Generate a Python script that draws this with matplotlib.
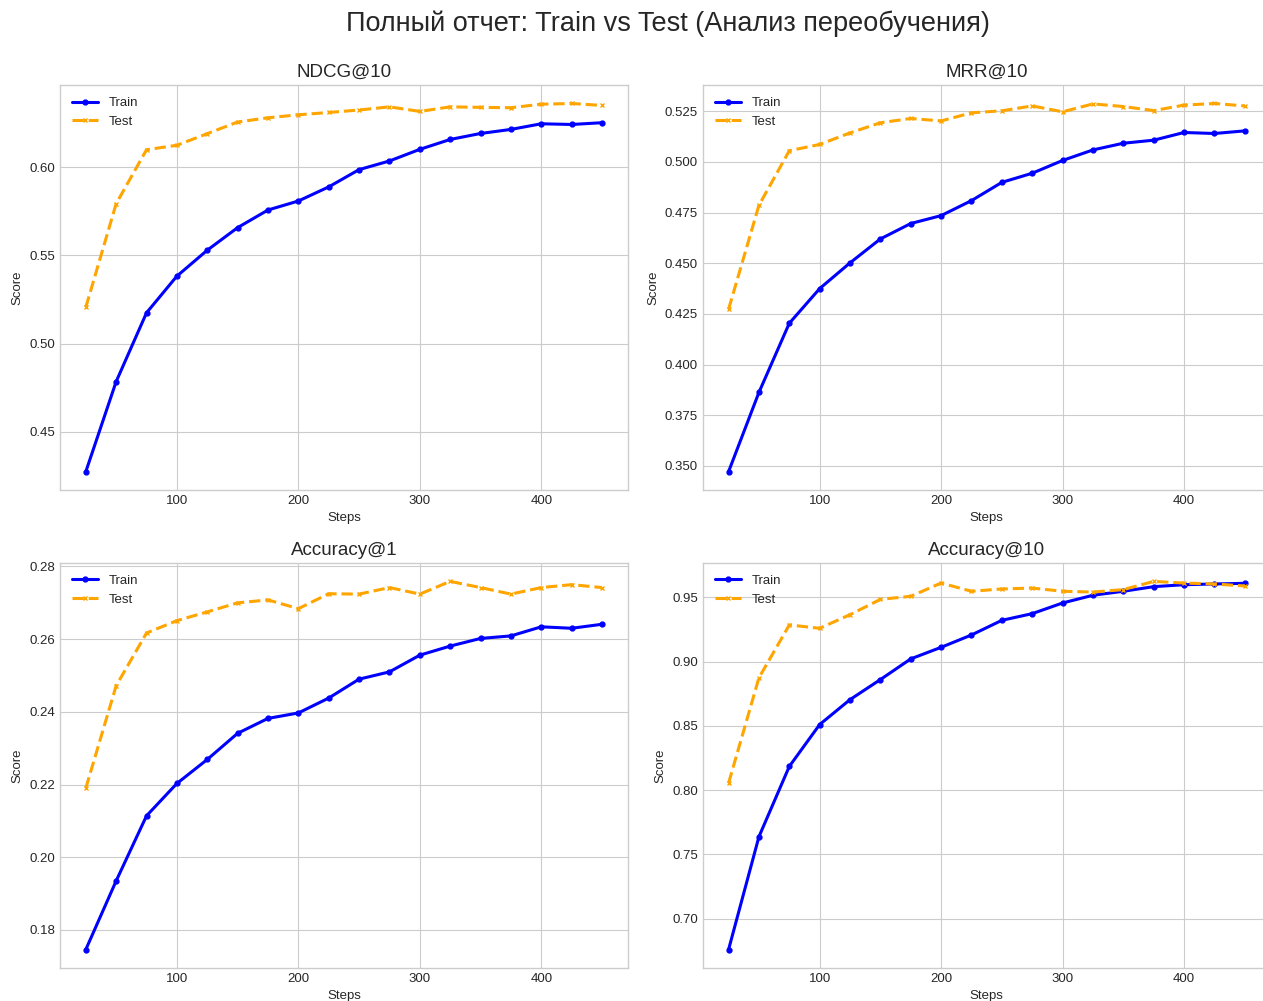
import matplotlib
matplotlib.use("Agg")
import matplotlib.pyplot as plt

plt.style.use("seaborn-v0_8-whitegrid")

steps = [25, 50, 75, 100, 125, 150, 175, 200, 225, 250, 275, 300, 325, 350, 375, 400, 425, 450]

ndcg_train = [0.4274, 0.4785, 0.5175, 0.5383, 0.5530, 0.5658, 0.5758, 0.5809, 0.5889, 0.5987,
              0.6036, 0.6102, 0.6158, 0.6192, 0.6215, 0.6247, 0.6243, 0.6253]
ndcg_test = [0.5206, 0.5794, 0.6100, 0.6125, 0.6191, 0.6257, 0.6281, 0.6298, 0.6311, 0.6325,
             0.6343, 0.6317, 0.6343, 0.6340, 0.6338, 0.6358, 0.6362, 0.6351]

mrr_train = [0.3472, 0.3863, 0.4204, 0.4375, 0.4502, 0.4620, 0.4696, 0.4735, 0.4809, 0.4899,
             0.4944, 0.5007, 0.5059, 0.5092, 0.5107, 0.5145, 0.5140, 0.5153]
mrr_test = [0.4273, 0.4786, 0.5055, 0.5086, 0.5143, 0.5193, 0.5214, 0.5202, 0.5242, 0.5252,
            0.5276, 0.5247, 0.5286, 0.5273, 0.5253, 0.5280, 0.5288, 0.5276]

acc1_train = [0.1746, 0.1935, 0.2114, 0.2203, 0.2269, 0.2341, 0.2382, 0.2397, 0.2438, 0.2490,
              0.2510, 0.2556, 0.2581, 0.2602, 0.2609, 0.2634, 0.2630, 0.2641]
acc1_test = [0.2190, 0.2472, 0.2617, 0.2651, 0.2675, 0.2700, 0.2708, 0.2684, 0.2725, 0.2724,
             0.2742, 0.2724, 0.2759, 0.2742, 0.2724, 0.2742, 0.2750, 0.2742]

acc10_train = [0.6759, 0.7637, 0.8184, 0.8510, 0.8704, 0.8860, 0.9021, 0.9111, 0.9207, 0.9321,
               0.9373, 0.9456, 0.9516, 0.9547, 0.9583, 0.9598, 0.9604, 0.9609]
acc10_test = [0.8054, 0.8874, 0.9285, 0.9259, 0.9365, 0.9484, 0.9508, 0.9611, 0.9547, 0.9565,
              0.9572, 0.9547, 0.9541, 0.9560, 0.9624, 0.9611, 0.9604, 0.9588]

titles = ["NDCG@10", "MRR@10", "Accuracy@1", "Accuracy@10"]
train_series = [ndcg_train, mrr_train, acc1_train, acc10_train]
test_series = [ndcg_test, mrr_test, acc1_test, acc10_test]

fig, axes = plt.subplots(2, 2, figsize=(12.63, 10.01), dpi=100)
fig.subplots_adjust(left=0.0475, right=1.006, top=0.915, bottom=0.033, wspace=0.132, hspace=0.18)
fig.suptitle("Полный отчет: Train vs Test (Анализ переобучения)", fontsize=19.5, x=0.529, y=0.99)

for ax, t, tr, te in zip(axes.flat, titles, train_series, test_series):
    ax.plot(steps, tr, color="blue", marker="o", markersize=3.5, linewidth=2.2, label="Train")
    ax.plot(steps, te, color="orange", marker="x", markersize=3.5, linewidth=2.2,
            linestyle="--", label="Test")
    ax.set_title(t, fontsize=13.5)
    ax.set_xlabel("Steps", fontsize=9.5)
    ax.set_ylabel("Score", fontsize=9.5)
    ax.tick_params(labelsize=9.5)
    ax.legend(loc="upper left", fontsize=9.5)
    for s in ax.spines.values():
        s.set_visible(True)
        s.set_color("#cccccc")

fig.savefig("out.png", dpi=100)
